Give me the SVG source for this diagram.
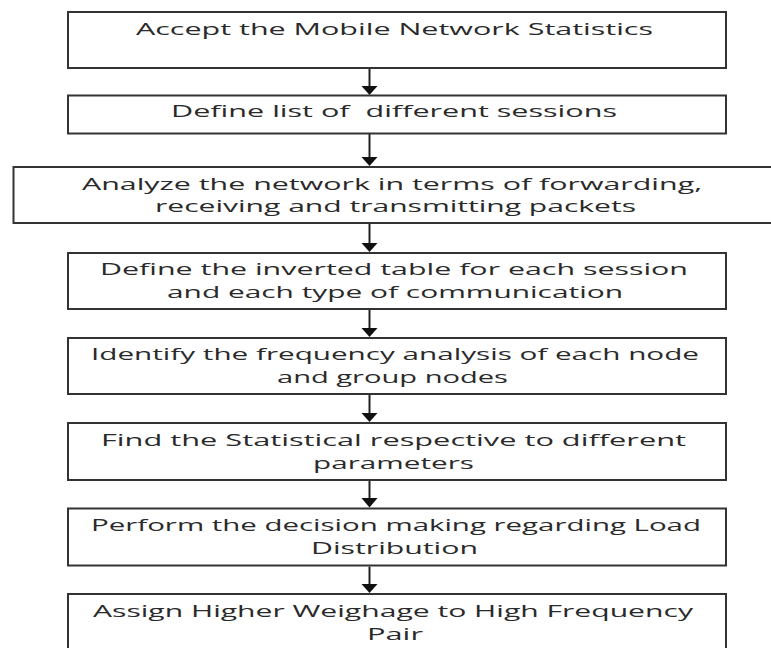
<svg xmlns="http://www.w3.org/2000/svg" width="771" height="648" viewBox="0 0 771 648">
<style>
.box{fill:#fff;stroke:#333;stroke-width:2}
.t{font-family:"Open Sans","Liberation Sans",Arial,sans-serif;font-size:16.5px;fill:#2a2a2a}
.c line{stroke:#222;stroke-width:2}
.c polygon{fill:#111}
</style>
<rect width="771" height="648" fill="#fff"/>
<g id="connectors" class="c">
<line x1="369.5" y1="69" x2="369.5" y2="87"/><polygon points="361.5,86 377.5,86 369.5,95"/>
<line x1="369.5" y1="134" x2="369.5" y2="158"/><polygon points="361.5,157 377.5,157 369.5,166"/>
<line x1="369.5" y1="224" x2="369.5" y2="244"/><polygon points="361.5,243 377.5,243 369.5,252"/>
<line x1="369.5" y1="310" x2="369.5" y2="329"/><polygon points="361.5,328 377.5,328 369.5,337"/>
<line x1="369.5" y1="395" x2="369.5" y2="414"/><polygon points="361.5,413 377.5,413 369.5,422"/>
<line x1="369.5" y1="481" x2="369.5" y2="499"/><polygon points="361.5,498 377.5,498 369.5,507.5"/>
<line x1="369.5" y1="566.5" x2="369.5" y2="585"/><polygon points="361.5,584 377.5,584 369.5,593"/>
</g>
<g id="n1"><rect class="box" x="68" y="12" width="658" height="56"/>
<text class="t" x="136" y="35" textLength="517" lengthAdjust="spacingAndGlyphs">Accept the Mobile Network Statistics</text></g>
<g id="n2"><rect class="box" x="68" y="95.5" width="658" height="38"/>
<text class="t" x="171" y="117" textLength="446" lengthAdjust="spacingAndGlyphs" style="white-space:pre">Define list of  different sessions</text></g>
<g id="n3"><rect class="box" x="13.5" y="167" width="770" height="56"/>
<text class="t" x="82" y="190" textLength="620" lengthAdjust="spacingAndGlyphs">Analyze the network in terms of forwarding,</text>
<text class="t" x="155" y="212" textLength="481" lengthAdjust="spacingAndGlyphs">receiving and transmitting packets</text></g>
<g id="n4"><rect class="box" x="68" y="253" width="658" height="56"/>
<text class="t" x="100" y="275" textLength="588" lengthAdjust="spacingAndGlyphs">Define the inverted table for each session</text>
<text class="t" x="167" y="298" textLength="456" lengthAdjust="spacingAndGlyphs">and each type of communication</text></g>
<g id="n5"><rect class="box" x="68" y="338" width="658" height="56"/>
<text class="t" x="91" y="360" textLength="608" lengthAdjust="spacingAndGlyphs">Identify the frequency analysis of each node</text>
<text class="t" x="277" y="383" textLength="231" lengthAdjust="spacingAndGlyphs">and group nodes</text></g>
<g id="n6"><rect class="box" x="68" y="423" width="658" height="57"/>
<text class="t" x="101" y="446" textLength="585" lengthAdjust="spacingAndGlyphs">Find the Statistical respective to different</text>
<text class="t" x="313" y="469" textLength="161" lengthAdjust="spacingAndGlyphs">parameters</text></g>
<g id="n7"><rect class="box" x="68" y="508.5" width="658" height="57"/>
<text class="t" x="91" y="531" textLength="610" lengthAdjust="spacingAndGlyphs">Perform the decision making regarding Load</text>
<text class="t" x="311" y="554" textLength="167" lengthAdjust="spacingAndGlyphs">Distribution</text></g>
<g id="n8"><rect class="box" x="68" y="594" width="658" height="70"/>
<text class="t" x="93" y="617" textLength="600" lengthAdjust="spacingAndGlyphs">Assign Higher Weighage to High Frequency</text>
<text class="t" x="367" y="640" textLength="56" lengthAdjust="spacingAndGlyphs">Pair</text></g>
</svg>
